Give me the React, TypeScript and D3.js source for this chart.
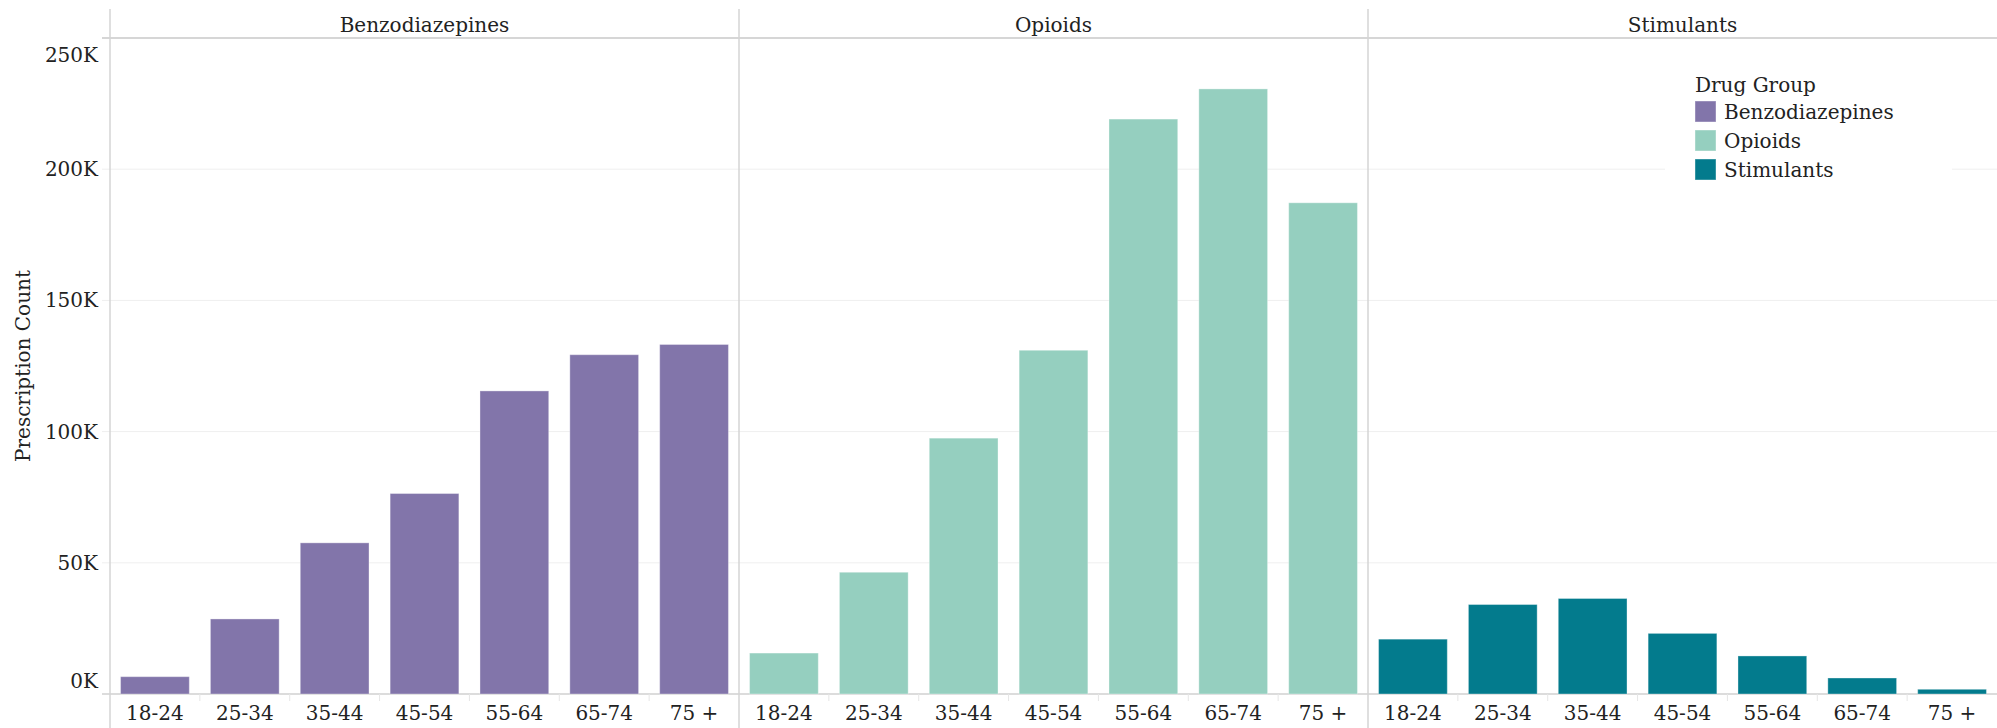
import React from "react";
import * as d3 from "d3";

const groups = ["Benzodiazepines", "Opioids", "Stimulants"];
const ageGroups = ["18-24", "25-34", "35-44", "45-54", "55-64", "65-74", "75 +"];
const benzodiazepines = [6600, 28600, 57600, 76400, 115500, 129300, 133200];
const opioids = [15600, 46400, 97500, 131000, 219100, 230600, 187200];
const stimulants = [20900, 34100, 36400, 23100, 14500, 6100, 1800];
const colors = ["#8275aa", "#95cfbf", "#037b8d"];
const yTicks = [0, 50000, 100000, 150000, 200000, 250000];
const yTitle = "Prescription Count";
const legendTitle = "Drug Group";

const W = 1997;
const H = 728;
const FONT = "Georgia, 'DejaVu Serif', serif";

export default function App() {
  const series = [benzodiazepines, opioids, stimulants];
  const left = 110;
  const top = 38;
  const bottom = 694;
  const headerTop = 9;

  const xOuter = d3.scaleBand<string>().domain(groups).range([left, W]).padding(0);
  const y = d3.scaleLinear().domain([0, 250000]).range([bottom, top]);
  const fmt = (v: number) => `${v / 1000}K`;

  return (
    <svg
      width={W}
      height={H}
      style={{ position: "absolute", left: 0, top: 0, background: "#fff" }}
      fontFamily={FONT}
    >
      {/* gridlines */}
      {yTicks.map((t) => (
        <line
          key={"g" + t}
          x1={left - 8}
          x2={W}
          y1={y(t)}
          y2={y(t)}
          stroke={t === 0 ? "#d0d0d0" : t === 250000 ? "#c8c8c8" : "#efefef"}
          strokeWidth={t === 0 || t === 250000 ? 1.5 : 1}
        />
      ))}
      {/* y tick labels */}
      {yTicks.map((t) => (
        <text
          key={"t" + t}
          x={98}
          y={Math.min(Math.max(y(t), 55), 681)}
          textAnchor="end"
          dominantBaseline="central"
          fontSize={20}
          fill="#222"
        >
          {fmt(t)}
        </text>
      ))}
      <text
        transform={`translate(30,${(top + bottom) / 2}) rotate(-90)`}
        textAnchor="middle"
        fontSize={20}
        fill="#222"
      >
        {yTitle}
      </text>

      {groups.map((g, gi) => {
        const x0 = xOuter(g)!;
        const pw = xOuter.bandwidth();
        const xInner = d3
          .scaleBand<string>()
          .domain(ageGroups)
          .range([x0, x0 + pw])
          .paddingInner(0.235)
          .paddingOuter(0.1175);
        const step = xInner.step();
        return (
          <g key={g}>
            <text x={x0 + pw / 2} y={32} textAnchor="middle" fontSize={20} fill="#222">
              {g}
            </text>
            {ageGroups.map((a, i) => (
              <rect
                key={a}
                x={xInner(a)!}
                y={y(series[gi][i])}
                width={xInner.bandwidth()}
                height={bottom - y(series[gi][i])}
                fill={colors[gi]}
                stroke="#ffffff"
                strokeOpacity={0.35}
                strokeWidth={1}
              />
            ))}
            {ageGroups.map((a, i) =>
              i > 0 ? (
                <line
                  key={"s" + a}
                  x1={x0 + i * step}
                  x2={x0 + i * step}
                  y1={bottom}
                  y2={bottom + 7}
                  stroke="#e6e6e6"
                />
              ) : null
            )}
            {ageGroups.map((a) => (
              <text
                key={"l" + a}
                x={xInner(a)! + xInner.bandwidth() / 2}
                y={720}
                textAnchor="middle"
                fontSize={20}
                fill="#222"
              >
                {a}
              </text>
            ))}
            <line x1={x0} x2={x0} y1={headerTop} y2={H} stroke="#d4d4d4" strokeWidth={1.5} />
          </g>
        );
      })}

      {/* legend */}
      <g>
        <rect x={1665} y={66} width={287} height={122} fill="#fff" />
        <text x={1695} y={92} fontSize={20} fill="#222">
          {legendTitle}
        </text>
        {groups.map((g, i) => (
          <g key={"lg" + g} transform={`translate(1695,${101 + i * 29})`}>
            <rect width={21} height={21} fill={colors[i]} stroke="#fff" strokeOpacity={0.4} />
            <text x={29} y={18} fontSize={20} fill="#222">
              {g}
            </text>
          </g>
        ))}
      </g>
    </svg>
  );
}
